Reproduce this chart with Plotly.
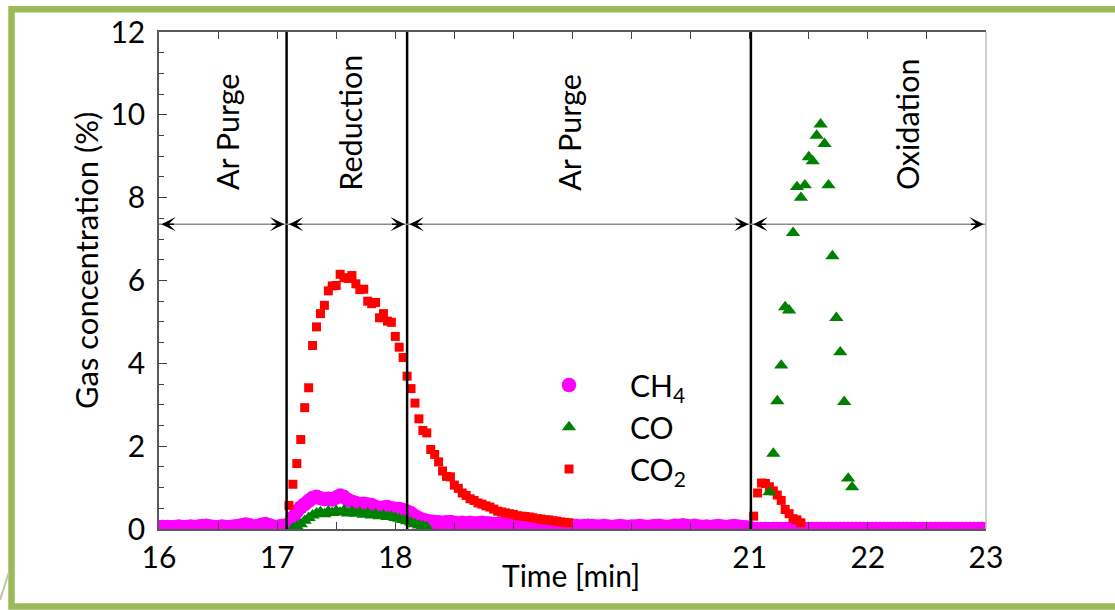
import plotly.graph_objects as go

# Analyzer clock: one reading every 2 s, starting at 16.0 min
elapsed_s = list(range(0, 422, 2))
time_min = [16 + s / 60 for s in elapsed_s]

# Gas concentrations in %, one value per reading (None = no plotted reading)
ch4 = [
    0.04, 0.05, 0.05, 0.04, 0.05, 0.06, 0.05, 0.05, 0.06, 0.05,
    0.06, 0.07, 0.08, 0.06, 0.05, 0.05, 0.06, 0.05, 0.05, 0.06,
    0.07, 0.09, 0.11, 0.09, 0.06, 0.07, 0.10, 0.12, 0.09, 0.06,
    0.05, 0.07, 0.08, 0.12, 0.28, 0.42, 0.52, 0.60, 0.68, 0.75,
    0.78, 0.74, 0.72, 0.73, 0.71, 0.76, 0.81, 0.77, 0.70, 0.66,
    0.63, 0.60, 0.61, 0.59, 0.58, 0.53, 0.50, 0.52, 0.53, 0.50,
    0.49, 0.48, 0.46, 0.42, 0.38, 0.31, 0.26, 0.22, 0.20, 0.18,
    0.17, 0.16, 0.15, 0.16, 0.17, 0.15, 0.14, 0.15, 0.14, 0.15,
    0.13, 0.14, 0.15, 0.14, 0.13, 0.12, 0.12, 0.13, 0.11, 0.12,
    0.14, 0.12, 0.11, 0.10, 0.12, 0.11, 0.09, 0.10, 0.11, 0.09,
    0.08, 0.09, 0.10, 0.08, 0.07, 0.08, 0.07, 0.06, 0.07, 0.08,
    0.07, 0.06, 0.06, 0.07, 0.06, 0.05, 0.06, 0.07, 0.06, 0.05,
    0.06, 0.06, 0.07, 0.06, 0.05, 0.06, 0.07, 0.08, 0.06, 0.05,
    0.06, 0.08, 0.07, 0.09, 0.07, 0.06, 0.08, 0.06, 0.05, 0.06,
    0.05, 0.06, 0.07, 0.06, 0.05, 0.06, 0.07, 0.06, 0.05, 0.04,
    0.03, 0.00, 0.00, 0.00, 0.00, 0.00, 0.00, 0.00, 0.00, 0.00,
    0.00, 0.00, 0.00, 0.00, 0.00, 0.00, 0.00, 0.00, 0.00, 0.00,
    0.00, 0.00, 0.00, 0.00, 0.00, 0.00, 0.00, 0.00, 0.00, 0.00,
    0.00, 0.00, 0.00, 0.00, 0.00, 0.00, 0.00, 0.00, 0.00, 0.00,
    0.00, 0.00, 0.00, 0.00, 0.00, 0.00, 0.00, 0.00, 0.00, 0.00,
    0.00, 0.00, 0.00, 0.00, 0.00, 0.00, 0.00, 0.00, 0.00, 0.00,
    0.00,
]

co = [
    None, None, None, None, None, None, None, None, None, None,
    None, None, None, None, None, None, None, None, None, None,
    None, None, None, None, None, None, None, None, None, None,
    None, None, None, None, 0.02, 0.06, 0.12, 0.20, 0.27, 0.33,
    0.38, 0.41, 0.36, 0.43, 0.39, 0.44, 0.40, 0.45, 0.38, 0.42,
    0.37, 0.40, 0.35, 0.38, 0.33, 0.36, 0.31, 0.33, 0.29, 0.30,
    0.27, 0.25, 0.22, 0.19, 0.16, 0.12, 0.09, 0.07, 0.05, None,
    None, None, None, None, None, None, None, None, None, None,
    None, None, None, None, None, None, None, None, None, None,
    None, None, None, None, None, None, None, None, None, None,
    None, None, None, None, None, None, None, None, None, None,
    None, None, None, None, None, None, None, None, None, None,
    None, None, None, None, None, None, None, None, None, None,
    None, None, None, None, None, None, None, None, None, None,
    None, None, None, None, None, None, None, None, None, None,
    None, None, None, None, None, 0.89, 1.82, 3.09, 3.95, 5.36,
    5.28, 7.15, 8.26, 8.00, 8.30, 8.98, 8.88, 9.50, 9.77, 9.30,
    8.30, 6.59, 5.10, 4.27, 3.07, 1.22, 1.01, None, None, None,
    None, None, None, None, None, None, None, None, None, None,
    None, None, None, None, None, None, None, None, None, None,
    None, None, None, None, None, None, None, None, None, None,
    None,
]

co2 = [
    None, None, None, None, None, None, None, None, None, None,
    None, None, None, None, None, None, None, None, None, None,
    None, None, None, None, None, None, None, None, None, None,
    None, None, None, 0.57, 1.08, 1.58, 2.16, 2.93, 3.41, 4.43,
    4.88, 5.20, 5.40, 5.75, 5.87, 5.88, 6.15, 6.07, 6.05, 6.12,
    5.92, 5.78, 5.79, 5.50, 5.44, 5.47, 5.10, 5.20, 5.02, 4.99,
    4.65, 4.39, 4.14, 3.69, 3.39, 3.04, 2.66, 2.38, 2.32, 1.92,
    1.80, 1.62, 1.40, 1.27, 1.26, 1.06, 0.98, 0.87, 0.81, 0.73,
    0.69, 0.63, 0.60, 0.56, 0.53, 0.48, 0.43, 0.41, 0.39, 0.37,
    0.35, 0.32, 0.31, 0.30, 0.29, 0.27, 0.25, 0.24, 0.22, 0.22,
    0.20, 0.19, 0.17, 0.16, 0.15, None, None, None, None, None,
    None, None, None, None, None, None, None, None, None, None,
    None, None, None, None, None, None, None, None, None, None,
    None, None, None, None, None, None, None, None, None, None,
    None, None, None, None, None, None, None, None, None, None,
    None, 0.31, 0.87, 1.11, 1.10, 1.02, 0.92, 0.82, 0.69, 0.47,
    0.37, 0.25, 0.22, 0.15, None, None, None, None, None, None,
    None, None, None, None, None, None, None, None, None, None,
    None, None, None, None, None, None, None, None, None, None,
    None, None, None, None, None, None, None, None, None, None,
    None, None, None, None, None, None, None, None, None, None,
    None,
]

# Process phases: boundaries (min), names and label positions
phase_bounds = [16.0, 17.08, 18.10, 21.01, 23.0]
phase_names = ["Ar Purge", "Reduction", "Ar Purge", "Oxidation"]
phase_label_x = [16.57, 17.62, 19.47, 22.33]
phase_label_base = 8.13
arrow_level = 7.36

x_tick_vals = [16, 17, 18, 21, 22, 23]
y_tick_vals = [0, 2, 4, 6, 8, 10, 12]

FONT = "Lato"
W, H = 1115, 610
ML, MR, MT, MB = 159, 129, 32, 81
PW, PH = W - ML - MR, H - MT - MB


def px_x(px):
    return (px - ML) / PW


def px_y(py):
    return (H - MB - py) / PH


fig = go.Figure()
fig.add_trace(go.Scatter(
    x=time_min, y=ch4, mode="markers", name="CH<sub>4</sub>", legendrank=1,
    marker=dict(symbol="circle", size=14.5, color="#FF00FF"),
))
fig.add_trace(go.Scatter(
    x=time_min, y=co2, mode="markers", name="CO<sub>2</sub>", legendrank=3,
    marker=dict(symbol="square", size=9, color="#FF0000"),
))
fig.add_trace(go.Scatter(
    x=time_min, y=co, mode="markers", name="CO", legendrank=2,
    marker=dict(symbol="triangle-up", size=12.5, color="#008000"),
))

shapes = []
annotations = []

# phase separators
for b in phase_bounds[1:-1]:
    shapes.append(dict(type="line", xref="x", yref="paper", x0=b, x1=b, y0=0, y1=1,
                       line=dict(color="black", width=2.5)))

# double-headed arrows spanning each phase
head_gap = 0.02
head_len = 0.12
for lo, hi in zip(phase_bounds[:-1], phase_bounds[1:]):
    shapes.append(dict(type="line", xref="x", yref="y", x0=lo, x1=hi,
                       y0=arrow_level, y1=arrow_level,
                       line=dict(color="#8C8C8C", width=1.5)))
    for tip, tail in ((lo + head_gap, lo + head_gap + head_len),
                      (hi - head_gap, hi - head_gap - head_len)):
        annotations.append(dict(
            x=tip, y=arrow_level, ax=tail, ay=arrow_level,
            xref="x", yref="y", axref="x", ayref="y", text="",
            showarrow=True, arrowhead=3, arrowsize=1.6, arrowwidth=1.5,
            arrowcolor="black", standoff=0,
        ))

# phase names
for name, lx in zip(phase_names, phase_label_x):
    annotations.append(dict(
        x=lx, y=phase_label_base, xref="x", yref="y", text=name, textangle=-90,
        showarrow=False, xanchor="center", yanchor="bottom",
        font=dict(family=FONT, size=30.5, color="black"),
    ))

# axis titles
annotations.append(dict(
    x=px_x(86), y=px_y(261), xref="paper", yref="paper",
    text="Gas concentration (%)", textangle=-90, showarrow=False,
    xanchor="center", yanchor="middle",
    font=dict(family=FONT, size=31, color="black"),
))
annotations.append(dict(
    x=px_x(571), y=px_y(575), xref="paper", yref="paper",
    text="Time [min]", showarrow=False, xanchor="center", yanchor="middle",
    font=dict(family=FONT, size=30, color="black"),
))

# right border of the plot area
shapes.append(dict(type="line", xref="paper", yref="paper", x0=1, x1=1, y0=0, y1=1,
                   line=dict(color="#BFBFBF", width=1.5)))

# green frame around the figure
shapes.append(dict(type="rect", xref="paper", yref="paper",
                   x0=px_x(11.5), x1=px_x(1135), y0=px_y(606.5), y1=px_y(9.3),
                   line=dict(color="#9BBB59", width=6.5), layer="below"))
shapes.append(dict(type="line", xref="paper", yref="paper",
                   x0=px_x(0), x1=px_x(9), y0=px_y(600), y1=px_y(572),
                   line=dict(color="#B9C7A4", width=2)))

axis_common = dict(
    showgrid=False, zeroline=False, showline=True, linecolor="#595959", linewidth=1.5,
    ticks="inside", tickcolor="#404040", tickwidth=1,
    tickfont=dict(family=FONT, size=30, color="black"),
)

fig.update_layout(
    width=W, height=H,
    margin=dict(l=ML, r=MR, t=MT, b=MB, pad=0),
    paper_bgcolor="white", plot_bgcolor="white",
    font=dict(family=FONT, color="black"),
    xaxis=dict(range=[16, 23], tickmode="array", tickvals=x_tick_vals,
               ticklen=7, mirror="ticks", ticklabelstandoff=1,
               minor=dict(dtick=0.5, ticks="inside", ticklen=7, tickcolor="#404040"),
               **axis_common),
    yaxis=dict(range=[0, 12], tickmode="array", tickvals=y_tick_vals, ticklen=8,
               minor=dict(dtick=0.5, ticks="inside", ticklen=5, tickcolor="#404040"),
               ticklabelstandoff=6, **axis_common),
    showlegend=True,
    legend=dict(x=px_x(508), y=px_y(359), xanchor="left", yanchor="top",
                bgcolor="rgba(0,0,0,0)", itemwidth=112,
                font=dict(family=FONT, size=30, color="black")),
    shapes=shapes,
    annotations=annotations,
)

fig.write_html("out.html")
